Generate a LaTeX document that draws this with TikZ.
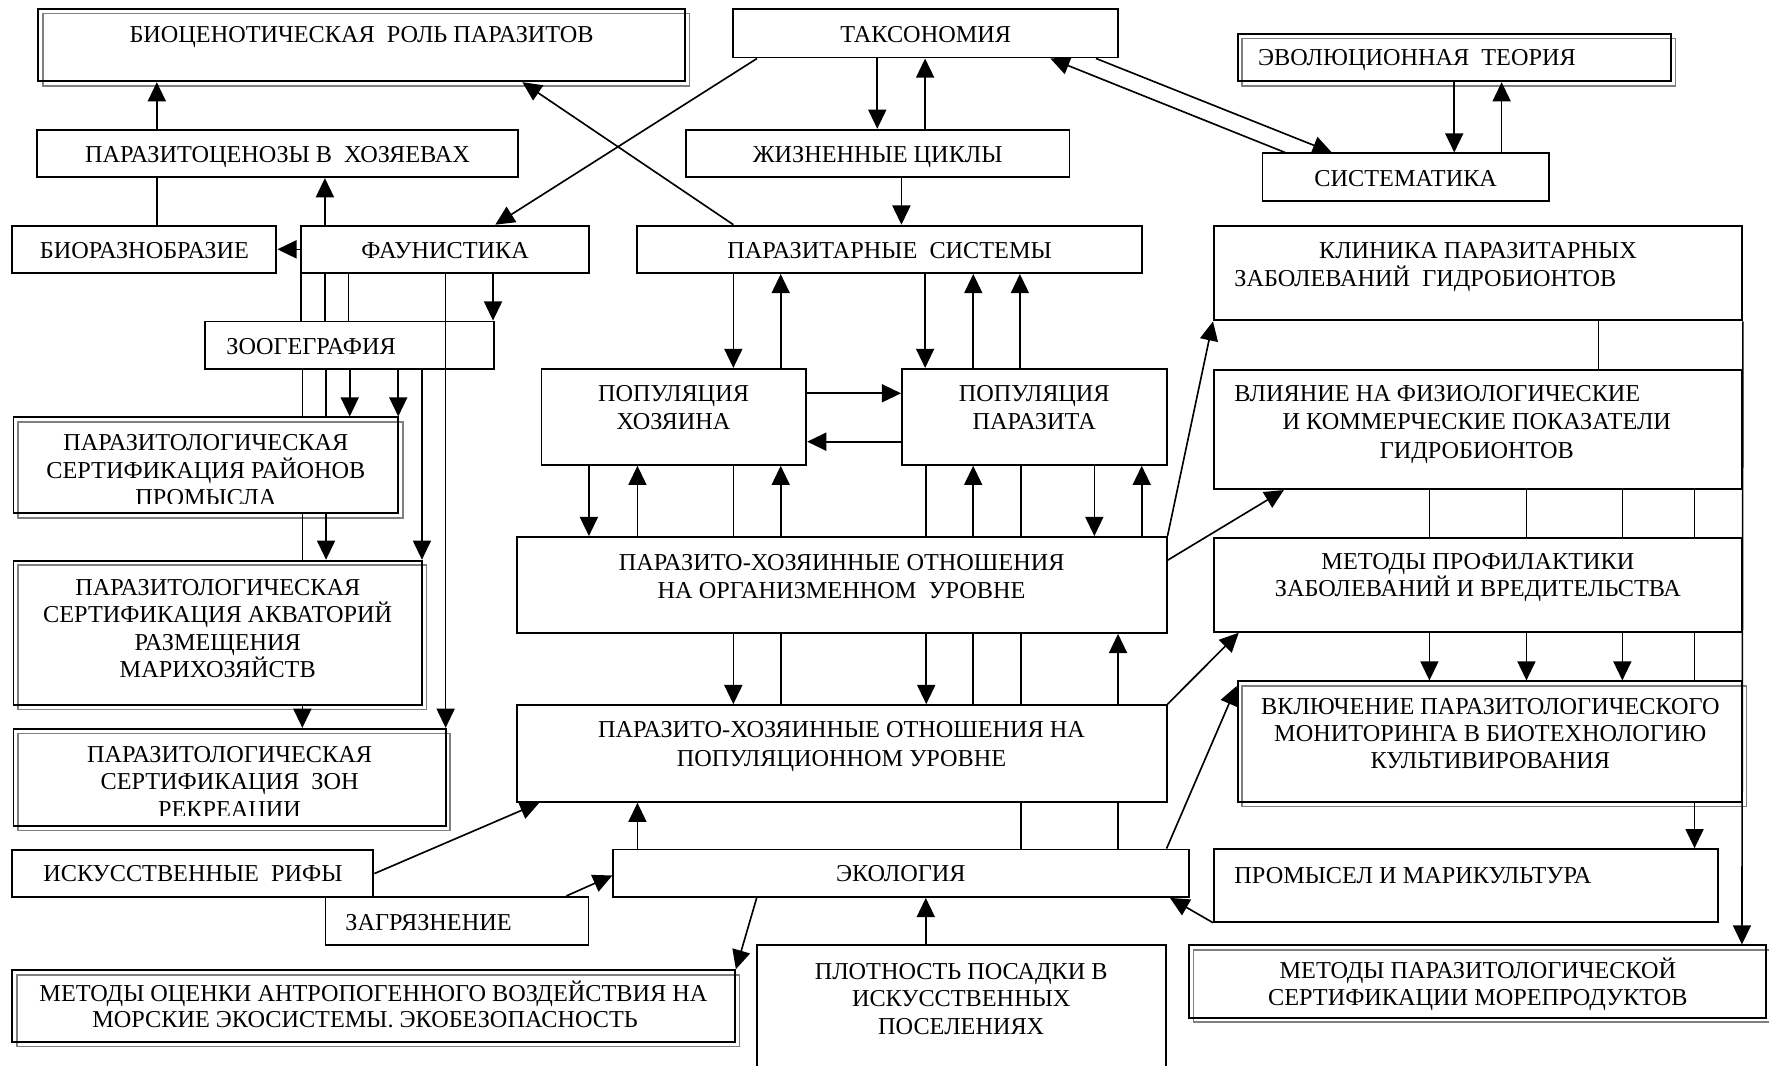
\documentclass[tikz,border=0pt]{standalone}
\usepackage{fontspec}
\setmainfont{Liberation Serif}
\usetikzlibrary{arrows.meta,fit}
\newcommand\B[5]{\node[bx, fit={(#2,#3) (#4,#5)}] (#1) {};}
\newcommand\DB[5]{\draw[sh] (#2+4,#3+4) rectangle (#4+4,#5+4);\B{#1}{#2}{#3}{#4}{#5}}
% vertical connector from bottom of #2 to top of #3 at x=#4, style #1
\newcommand\V[4][ln]{\draw[#1] (#2.south -| #4,0) -- (#3.north -| #4,0);}
\begin{document}
\begin{tikzpicture}[x=1pt,y=-1pt,
  bx/.style={draw, line width=1.7pt, inner sep=0pt, rectangle},
  sh/.style={draw=black!50, line width=1.4pt},
  tx/.style={font=\fontsize{21.5}{25}\selectfont, inner sep=0pt, anchor=base},
  txl/.style={tx, anchor=base west},
  ln/.style={line width=1.45pt},
  ar/.style={ln, -{Triangle[length=17pt,width=16pt]}},
  au/.style={ln, {Triangle[length=17pt,width=16pt]}-},
]
\useasboundingbox (0,0) rectangle (1568,944);
% ---------------- boxes
\DB{bio}{34}{8}{607}{72}
\B{parc}{33}{115}{459}{157}
\B{biora}{11}{200}{245}{242}
\B{faun}{267}{200}{522}{242}
\B{zoo}{182}{285}{438}{327}
\DB{rai}{12}{370}{353}{455}
\DB{akv}{12}{497}{374}{625}
\DB{zon}{12}{646}{395}{732}
\B{tax}{650}{8}{991}{51}
\B{zc}{608}{115}{948}{157}
\B{sist}{1119}{136}{1373}{178}
\DB{evol}{1097}{30}{1481}{72}
\B{ps}{565}{200}{1012}{242}
\B{klin}{1076}{200}{1544}{284}
\B{hoz}{480}{327}{714.6}{412}
\B{par}{799.5}{327}{1034}{412}
\B{po}{458}{476}{1034}{561}
\B{vl}{1076}{328}{1544}{433.5}
\B{mp}{1076}{477}{1544}{560}
\DB{vkl}{1097}{604}{1544}{711}
\B{pp}{458}{625}{1034}{710.7}
\B{eco}{543.6}{753}{1054}{795}
\B{rif}{11}{753.6}{331}{795}
\B{zag}{288.5}{795}{521.6}{838}
\DB{mo}{11}{860}{651.4}{923.5}
\B{plot}{671}{838}{1033.6}{950}
\B{prom}{1076}{752.7}{1522.6}{817}
\DB{mpar}{1054}{838}{1565}{902}
% ---------------- texts
\node[tx] (t1) at (320.5,38) {БИОЦЕНОТИЧЕСКАЯ~~РОЛЬ ПАРАЗИТОВ};
\node[tx] (t2) at (246,144) {ПАРАЗИТОЦЕНОЗЫ В~~ХОЗЯЕВАХ};
\node[tx] (t3) at (128,229) {БИОРАЗНОБРАЗИЕ};
\node[tx] (t4) at (394.5,229) {ФАУНИСТИКА};
\node[txl] (t5) at (200.5,314) {ЗООГЕГРАФИЯ};
\node[tx] (t6) at (820.5,38) {ТАКСОНОМИЯ};
\node[tx] (t7) at (778,144) {ЖИЗНЕННЫЕ ЦИКЛЫ};
\node[tx] (t8) at (1246,165.5) {СИСТЕМАТИКА};
\node[txl] (t9) at (1115,58.5) {ЭВОЛЮЦИОННАЯ~~ТЕОРИЯ};
\node[tx] (t10) at (788.5,229) {ПАРАЗИТАРНЫЕ~~СИСТЕМЫ};
\node[tx] (t11) at (1310,229) {КЛИНИКА ПАРАЗИТАРНЫХ};
\node[txl] (t12) at (1094,254) {ЗАБОЛЕВАНИЙ~~ГИДРОБИОНТОВ};
\node[tx] (t13) at (597,356) {ПОПУЛЯЦИЯ};
\node[tx] (t14) at (597,381) {ХОЗЯИНА};
\node[tx] (t15) at (916.7,356) {ПОПУЛЯЦИЯ};
\node[tx] (t16) at (916.7,381) {ПАРАЗИТА};
\node[txl] (t17) at (1094,356) {ВЛИЯНИЕ НА ФИЗИОЛОГИЧЕСКИЕ};
\node[tx] (t18) at (1309,381) {И КОММЕРЧЕСКИЕ ПОКАЗАТЕЛИ};
\node[tx] (t19) at (1309,406) {ГИДРОБИОНТОВ};
\node[tx] (t20) at (746,506) {ПАРАЗИТО-ХОЗЯИННЫЕ ОТНОШЕНИЯ};
\node[tx] (t21) at (746,530.5) {НА ОРГАНИЗМЕННОМ~~УРОВНЕ};
\node[tx] (t22) at (1310,504.5) {МЕТОДЫ ПРОФИЛАКТИКИ};
\node[tx] (t23) at (1310,529) {ЗАБОЛЕВАНИЙ И ВРЕДИТЕЛЬСТВА};
\node[tx] (t24) at (1321,633) {ВКЛЮЧЕНИЕ ПАРАЗИТОЛОГИЧЕСКОГО};
\node[tx] (t25) at (1321,657) {МОНИТОРИНГА В БИОТЕХНОЛОГИЮ};
\node[tx] (t26) at (1321,681) {КУЛЬТИВИРОВАНИЯ};
\node[tx] (t27) at (746,654) {ПАРАЗИТО-ХОЗЯИННЫЕ ОТНОШЕНИЯ НА};
\node[tx] (t28) at (746,679) {ПОПУЛЯЦИОННОМ УРОВНЕ};
\node[tx] (t29) at (798.5,781.6) {ЭКОЛОГИЯ};
\node[tx] (t30) at (171,781.6) {ИСКУССТВЕННЫЕ~~РИФЫ};
\node[txl] (t31) at (306,824.5) {ЗАГРЯЗНЕНИЕ};
\node[txl] (t32) at (1094,783) {ПРОМЫСЕЛ И МАРИКУЛЬТУРА};
\node[tx] (t33) at (331,888) {МЕТОДЫ ОЦЕНКИ АНТРОПОГЕННОГО ВОЗДЕЙСТВИЯ НА};
\node[tx] (t34) at (323.6,911) {МОРСКИЕ ЭКОСИСТЕМЫ. ЭКОБЕЗОПАСНОСТЬ};
\node[tx] (t35) at (852,868) {ПЛОТНОСТЬ ПОСАДКИ В};
\node[tx] (t36) at (852,892.4) {ИСКУССТВЕННЫХ};
\node[tx] (t37) at (852,917) {ПОСЕЛЕНИЯХ};
\node[tx] (t38) at (1310,867) {МЕТОДЫ ПАРАЗИТОЛОГИЧЕСКОЙ};
\node[tx] (t39) at (1310,891) {СЕРТИФИКАЦИИ МОРЕПРОДУКТОВ};
\node[tx] (t40) at (182.5,399) {ПАРАЗИТОЛОГИЧЕСКАЯ};
\node[tx] (t41) at (182.5,424) {СЕРТИФИКАЦИЯ РАЙОНОВ};
\begin{scope}
\clip (12,370) rectangle (353,446.5);
\node[tx] (t42) at (182.5,448.5) {ПРОМЫСЛА};
\end{scope}
\node[tx] (t43) at (193,527.5) {ПАРАЗИТОЛОГИЧЕСКАЯ};
\node[tx] (t44) at (193,552) {СЕРТИФИКАЦИЯ АКВАТОРИЙ};
\node[tx] (t45) at (193,576.5) {РАЗМЕЩЕНИЯ};
\node[tx] (t46) at (193,600.5) {МАРИХОЗЯЙСТВ};
\node[tx] (t47) at (203.5,676) {ПАРАЗИТОЛОГИЧЕСКАЯ};
\node[tx] (t48) at (203.5,700) {СЕРТИФИКАЦИЯ~~ЗОН};
\begin{scope}
\clip (12,646) rectangle (395,723);
\node[tx] (t49) at (203.5,725) {РЕКРЕАЦИИ};
\end{scope}
% ---------------- connectors: top left
\V[au]{bio}{parc}{139}
\V{parc}{biora}{139}
\V[au]{parc}{faun}{288}
\draw[ar] (faun.west) -- (biora.east);
\draw[ar] (tax.south -| 671,0) -- (faun.north -| 439,0);
\draw[ar] (ps.north -| 650,0) -- (bio.south -| 463,0);
% taxonomy block
\V[ar]{tax}{zc}{777.6}
\V[au]{tax}{zc}{820}
\V[ar]{zc}{ps}{799}
\draw[ar] (sist.north -| 1139,0) -- (tax.south -| 931,0);
\draw[ar] (tax.south -| 971.5,0) -- (sist.north -| 1180.5,0);
\V[ar]{evol}{sist}{1289}
\V[au]{evol}{sist}{1331}
% faunistics / zoogeography column
\V{faun}{zoo}{267}
\V{faun}{zoo}{288}
\V{faun}{zoo}{309}
\V[ar]{faun}{zoo}{437}
\V[ar]{faun}{zon}{395}
\V{zoo}{rai}{268}
\V{zoo}{rai}{289}
\V[ar]{zoo}{rai}{310}
\V[ar]{zoo}{rai}{353}
\V[ar]{zoo}{akv}{374}
\V{rai}{akv}{268}
\V[ar]{rai}{akv}{289}
\V[ar]{akv}{zon}{268}
% parasitic systems block
\V[ar]{ps}{hoz}{650}
\V[au]{ps}{hoz}{692}
\V[ar]{ps}{par}{820}
\V[au]{ps}{par}{862.7}
\V[au]{ps}{par}{904}
\draw[ar] (hoz.east |- 0,348.6) -- (par.west |- 0,348.6);
\draw[ar] (par.west |- 0,391.5) -- (hoz.east |- 0,391.5);
\V[ar]{hoz}{po}{522}
\V[au]{hoz}{po}{565}
\V{hoz}{po}{650}
\V[au]{hoz}{po}{692}
\V{par}{po}{821}
\V[au]{par}{po}{862.6}
\V{par}{po}{905}
\V[ar]{par}{po}{970}
\V[au]{par}{po}{1012}
\V[ar]{po}{pp}{650}
\V{po}{pp}{692}
\V[ar]{po}{pp}{821}
\V{po}{pp}{862.6}
\V{po}{pp}{905}
\V[au]{po}{pp}{991}
\V[au]{pp}{eco}{565}
\V{pp}{eco}{905}
\V{pp}{eco}{991}
\V[au]{eco}{plot}{820.6}
% bottom
\draw[ar] (rif.east) -- (pp.south -| 478,0);
\draw[ar] (zag.north -| 502,0) -- (eco.west |- 0,776);
\draw[ar] (eco.south -| 670.7,0) -- (mo.north east);
\draw[ar] (prom.south west) -- (eco.south -| 1037,0);
\draw[ar] (eco.north -| 1034,0) -- (vkl.west |- 0,608);
% right
\draw[ar] (po.north east) -- (klin.south west);
\draw[ar] (po.east |- 0,496.6) -- (vl.south -| 1138,0);
\draw[ar] (pp.north east) -- (mp.south -| 1098,0);
\V{klin}{vl}{1417}
\draw[ar] (klin.south east) -- (mpar.north -| 1544,0);
\V{vl}{mp}{1267}
\V{vl}{mp}{1353}
\V{vl}{mp}{1438}
\V{vl}{mp}{1502}
\V[ar]{mp}{vkl}{1267}
\V[ar]{mp}{vkl}{1353}
\V[ar]{mp}{vkl}{1438}
\V{mp}{vkl}{1502}
\V[ar]{vkl}{prom}{1502}
\end{tikzpicture}
\end{document}
